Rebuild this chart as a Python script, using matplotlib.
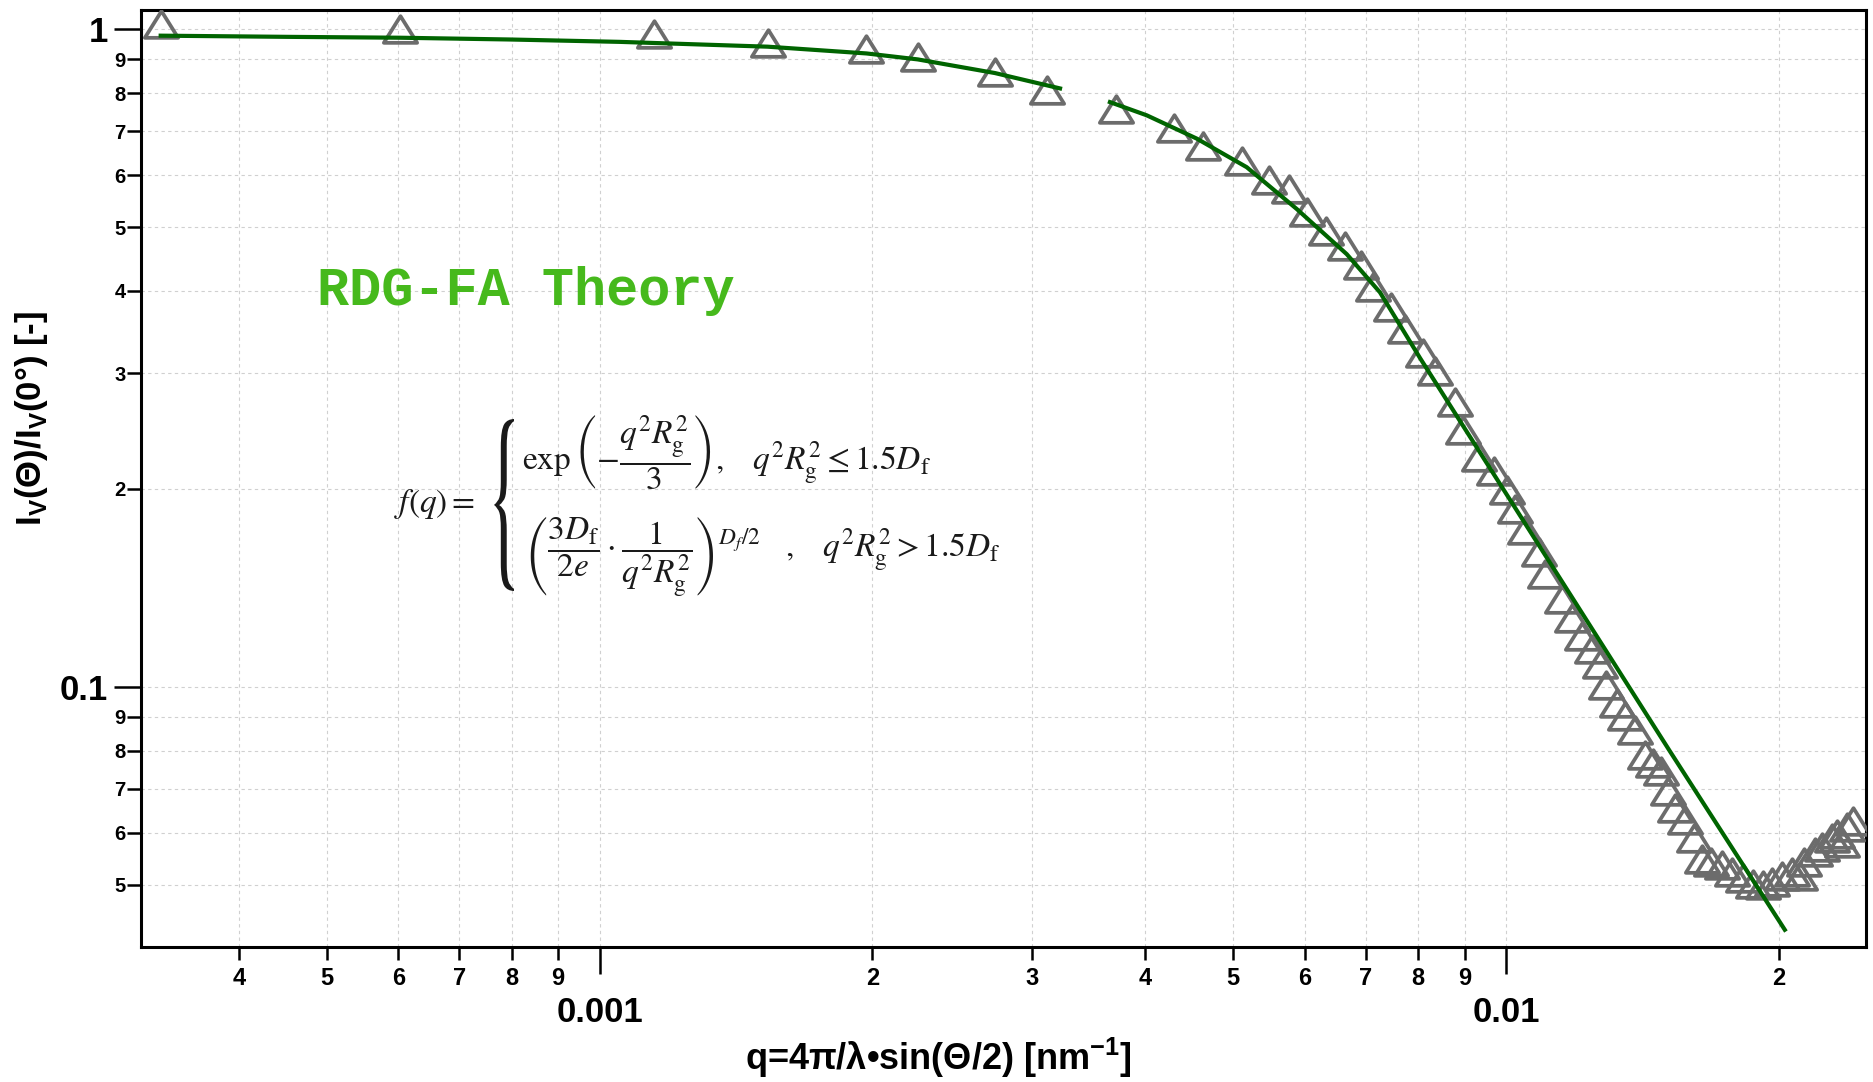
import numpy as np
import matplotlib.pyplot as plt
from matplotlib.ticker import LogLocator, FuncFormatter
from matplotlib.textpath import TextPath
from matplotlib.patches import PathPatch
from matplotlib.path import Path
from matplotlib.font_manager import FontProperties
from matplotlib.transforms import Affine2D

plt.rcParams['font.family'] = ['Liberation Sans', 'DejaVu Sans']
plt.rcParams['mathtext.fontset'] = 'custom'
plt.rcParams['mathtext.bf'] = 'Liberation Sans:bold'
plt.rcParams['mathtext.rm'] = 'Liberation Sans:bold'

# 測定データ (q [nm^-1], 規格化散乱強度)
q_meas = [3.28e-4, 6.02e-4, 1.147e-3, 1.533e-3, 1.970e-3, 2.244e-3, 2.730e-3, 3.113e-3, 3.709e-3,
          4.298e-3, 4.634e-3, 5.109e-3, 5.482e-3, 5.758e-3, 6.027e-3, 6.334e-3, 6.643e-3, 6.918e-3,
          7.133e-3, 7.465e-3, 7.745e-3, 8.091e-3, 8.354e-3, 8.782e-3, 8.970e-3, 9.331e-3, 9.687e-3,
          1.0025e-2, 1.0240e-2, 1.0486e-2, 1.0874e-2, 1.1041e-2, 1.1538e-2, 1.1834e-2, 1.2129e-2,
          1.2434e-2, 1.2697e-2, 1.2882e-2, 1.3245e-2, 1.3528e-2, 1.3875e-2,
          1.4234e-2, 1.4526e-2, 1.4823e-2, 1.5089e-2, 1.5362e-2, 1.5756e-2, 1.6119e-2, 1.6437e-2,
          1.6832e-2, 1.7298e-2, 1.7771e-2, 1.8272e-2, 1.8727e-2, 1.9225e-2, 1.9641e-2, 2.0145e-2,
          2.0661e-2, 2.1104e-2, 2.1319e-2, 2.1922e-2, 2.2299e-2, 2.2871e-2, 2.3162e-2, 2.348e-2,
          2.3794e-2, 2.4147e-2]
I_meas = [1.018, 1.001, 0.983, 0.952, 0.935, 0.907, 0.862, 0.808, 0.756,
          0.708, 0.664, 0.631, 0.590, 0.571, 0.527, 0.493, 0.468, 0.438,
          0.405, 0.378, 0.350, 0.322, 0.302, 0.2715, 0.2458, 0.2240, 0.2130,
          0.1990, 0.1866, 0.1729, 0.1602, 0.1484, 0.1359, 0.1274, 0.1195,
          0.1140, 0.1082, 0.1008, 0.0945, 0.0902, 0.0861,
          0.0787, 0.0765, 0.0744, 0.0694, 0.0653, 0.0627, 0.0588, 0.0548,
          0.0542, 0.0535, 0.0523, 0.0511, 0.0502, 0.0499, 0.0505, 0.0516,
          0.0523, 0.0516, 0.0542, 0.0561, 0.0571, 0.0588, 0.0598, 0.0578,
          0.0613, 0.0624]

# RDG-FA フィット (Guinier 領域)
q_fit1 = [3.28e-4, 4.52e-4, 6.02e-4, 7.96e-4, 1.053e-3, 1.533e-3, 1.970e-3, 2.244e-3, 2.730e-3, 3.221e-3]
I_fit1 = [0.978, 0.974, 0.971, 0.965, 0.957, 0.941, 0.919, 0.900, 0.858, 0.813]

# RDG-FA フィット (べき乗領域)
q_fit2 = [3.656e-3, 4.014e-3, 4.558e-3, 5.175e-3, 5.876e-3, 6.672e-3, 7.26e-3, 8.04e-3, 8.89e-3,
          1.10e-2, 1.517e-2, 2.03e-2]
I_fit2 = [0.775, 0.740, 0.682, 0.617, 0.533, 0.455, 0.398, 0.316, 0.254, 0.160, 0.0797, 0.0427]

W, H = 1874, 1082
fig = plt.figure(figsize=(W / 100, H / 100), dpi=100)
ax = fig.add_axes([141 / W, 1 - 947 / H, (1866 - 141) / W, (947 - 10) / H])

tri = Path([(-1, -0.8), (1, -0.8), (0, 0.8), (-1, -0.8)], closed=True)
ax.plot(q_meas, I_meas, linestyle='none', marker=tri, markersize=24,
        markerfacecolor='none', markeredgecolor='#6c6c6c', markeredgewidth=2.7, zorder=3)
ax.plot(q_fit1, I_fit1, color='#006400', lw=3, zorder=4)
ax.plot(q_fit2, I_fit2, color='#006400', lw=3, zorder=4)

ax.set_xscale('log')
ax.set_yscale('log')
ax.set_xlim(3.12e-4, 0.02495)
ax.set_ylim(0.0402, 1.07)


def major_fmt(v, pos):
    return f"{v:g}"


def minor_fmt(v, pos):
    e = np.floor(np.log10(v) + 1e-9)
    return f"{int(round(v / 10 ** e))}"


for axis in (ax.xaxis, ax.yaxis):
    axis.set_major_locator(LogLocator(base=10, numticks=20))
    axis.set_minor_locator(LogLocator(base=10, subs=np.arange(2, 10), numticks=100))
    axis.set_major_formatter(FuncFormatter(major_fmt))
    axis.set_minor_formatter(FuncFormatter(minor_fmt))

ax.tick_params(axis='x', which='major', length=19.5, width=1.8, pad=16, labelsize=25)
ax.tick_params(axis='x', which='minor', length=9.5, width=1.8, pad=5, labelsize=17)
ax.tick_params(axis='y', which='major', length=19.5, width=1.8, pad=4, labelsize=25)
ax.tick_params(axis='y', which='minor', length=10, width=1.8, pad=1, labelsize=14.5)
for lab in (ax.get_xticklabels(which='both') + ax.get_yticklabels(which='both')):
    lab.set_fontweight('bold')

ax.grid(which='both', color='#d0d0d0', linestyle=(0, (3, 3)), linewidth=0.8)
for s in ax.spines.values():
    s.set_linewidth(2.2)
    s.set_color('black')

fig.text(32 / W, 1 - 418 / H, r"I$_\mathbf{V}$(Θ)/I$_\mathbf{V}$(0°) [-]",
         rotation=90, ha='center', va='center', fontsize=25, fontweight='bold')
fig.text(938 / W, 1 - 1058 / H, r"q=4π/λ•sin(Θ/2) [nm$^{\mathbf{-1}}$]",
         ha='center', va='center', fontsize=26, fontweight='bold')

# タイトル風テキスト
fig.text(317 / W, 1 - 305 / H, "RDG-FA Theory", family='Liberation Mono', fontweight='bold',
         fontsize=38.5, color='#46b91c', ha='left', va='baseline')

# 数式
fs = 24
fig.text(394 / W, 1 - 504 / H, r"$f(q)=$", math_fontfamily='stix', fontsize=fs,
         ha='left', va='center', color='#1a1a1a')
fig.text(522 / W, 1 - 453 / H,
         r"$\mathrm{exp}\,\left(-\dfrac{q^2R_\mathrm{g}^2}{3}\right),\quad q^2R_\mathrm{g}^2\leq 1.5D_\mathrm{f}$",
         math_fontfamily='stix', fontsize=fs, ha='left', va='center', color='#1a1a1a')
fig.text(524 / W, 1 - 557 / H,
         r"$\left(\dfrac{3D_\mathrm{f}}{2e}\cdot\dfrac{1}{q^2R_\mathrm{g}^2}\right)^{D_f/2}\quad,\quad q^2R_\mathrm{g}^2>1.5D_\mathrm{f}$",
         math_fontfamily='stix', fontsize=fs, ha='left', va='center', color='#1a1a1a')

# 中括弧
tp = TextPath((0, 0), "{", size=1, prop=FontProperties(family='STIXGeneral'))
bb = tp.get_extents()
bw, bh = 20 / W, 172 / H
tr = (Affine2D().translate(-bb.x0, -bb.y0).scale(bw / bb.width, bh / bb.height)
      .translate(494 / W, 1 - 591 / H) + fig.transFigure)
fig.patches.append(PathPatch(tp, transform=tr, facecolor='#1a1a1a', lw=0))

plt.savefig("out.png", dpi=100)
